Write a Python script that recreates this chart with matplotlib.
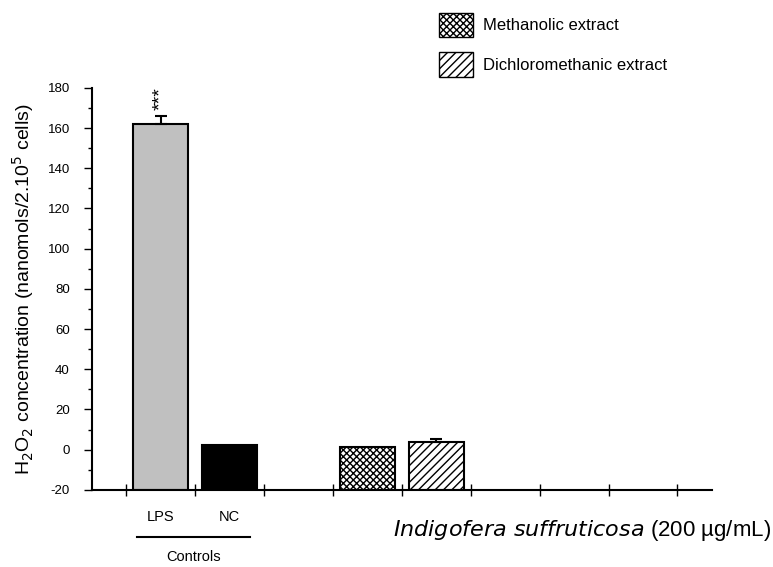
import matplotlib
matplotlib.use('Agg')
import matplotlib.pyplot as plt
from matplotlib.patches import Patch
from matplotlib.ticker import MultipleLocator

# data
labels = ['LPS', 'NC', 'Methanolic extract', 'Dichloromethanic extract']
positions = [1, 2, 4, 5]
values = [162, 2.5, 1.5, 4]
errors = [4, 0, 0, 1.5]
colors = ['#c0c0c0', 'black', 'white', 'white']
hatches = [None, None, 'xxxxx', '////']
ymin, ymax = -20, 180

plt.rcParams['font.family'] = ['Liberation Sans', 'DejaVu Sans']
plt.rcParams['hatch.linewidth'] = 1.0
plt.rcParams['axes.unicode_minus'] = False

fig = plt.figure(figsize=(7.73, 5.67), dpi=100)
ax = fig.add_axes([0.119, 0.136, 0.802, 0.709])

for x, v, e, c, h in zip(positions, values, errors, colors, hatches):
    ax.bar(x, v - ymin, bottom=ymin, width=0.8, color=c, edgecolor='black',
           linewidth=1.5, hatch=h, zorder=2)
    if e:
        ax.errorbar(x, v, yerr=[[0], [e]], color='black', capsize=4,
                    elinewidth=1.5, capthick=1.5, zorder=3)

# significance mark
ax.text(positions[0], values[0] + errors[0] + 3, '***', rotation=90,
        ha='center', va='bottom', fontsize=14)

ax.set_xlim(0, 9)
ax.set_ylim(ymin, ymax)
ax.yaxis.set_major_locator(MultipleLocator(20))
ax.yaxis.set_minor_locator(MultipleLocator(10))
ax.set_xticks([i + 0.5 for i in range(9)])
ax.set_xticklabels([])
ax.tick_params(axis='x', direction='inout', length=8, width=1)
ax.tick_params(axis='y', which='major', direction='out', length=6, width=1,
               labelsize=9.5, pad=10)
ax.tick_params(axis='y', which='minor', direction='out', length=3, width=1)
for s in ['top', 'right']:
    ax.spines[s].set_visible(False)
for s in ['left', 'bottom']:
    ax.spines[s].set_linewidth(1.5)

ax.set_ylabel('H$_2$O$_2$ concentration (nanomols/2.10$^5$ cells)', fontsize=14,
              labelpad=8)

# x labels
tr = ax.get_xaxis_transform()
ax.text(positions[0], -0.067, labels[0], transform=tr, ha='center', va='center',
        fontsize=10.5)
ax.text(positions[1], -0.067, labels[1], transform=tr, ha='center', va='center',
        fontsize=10.5)
ax.plot([0.65, 2.3], [-0.117, -0.117], color='black', lw=1.5, transform=tr,
        clip_on=False)
ax.text(1.48, -0.167, 'Controls', transform=tr, ha='center', va='center',
        fontsize=10.5)
fig.text(0.998, 0.065, '$\\it{Indigofera\\ suffruticosa}$ (200 \u00b5g/mL)',
         ha='right', va='center', fontsize=16)

handles = [Patch(facecolor='white', edgecolor='black', hatch=hatches[2], label=labels[2]),
           Patch(facecolor='white', edgecolor='black', hatch=hatches[3], label=labels[3])]
fig.legend(handles=handles, loc='upper left', bbox_to_anchor=(0.549, 1.004),
           frameon=False, fontsize=12, handlelength=2.0, handleheight=1.9,
           labelspacing=0.9, handletextpad=0.6)

fig.savefig('out.png', dpi=100)
